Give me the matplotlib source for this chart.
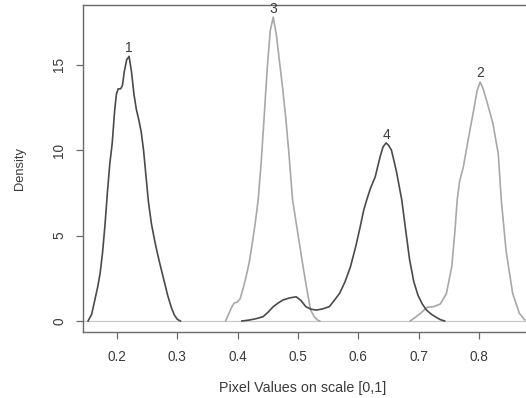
import matplotlib
matplotlib.use("Agg")
import matplotlib.pyplot as plt

plt.rcParams['font.family'] = ['Liberation Sans', 'DejaVu Sans']

# Curve 1 (dark)
x1 = [0.152, 0.158, 0.163, 0.168, 0.172, 0.176, 0.180, 0.184, 0.188, 0.192, 0.196, 0.199,
      0.202, 0.206, 0.209, 0.212, 0.216, 0.220, 0.224, 0.228, 0.232, 0.236, 0.240, 0.244,
      0.248, 0.252, 0.257, 0.263, 0.270, 0.277, 0.284, 0.290, 0.295, 0.300, 0.305]
y1 = [0.0, 0.4, 1.2, 2.0, 2.8, 4.0, 5.6, 7.5, 9.2, 10.4, 12.3, 13.3,
      13.6, 13.6, 13.8, 14.6, 15.3, 15.5, 14.6, 13.3, 12.4, 11.8, 11.1, 10.0,
      8.5, 7.0, 5.7, 4.6, 3.5, 2.5, 1.5, 0.8, 0.35, 0.1, 0.0]

# Curve 3 (light)
x3 = [0.380, 0.385, 0.390, 0.394, 0.399, 0.404, 0.409, 0.414, 0.419, 0.424, 0.429, 0.434,
      0.439, 0.444, 0.449, 0.454, 0.459, 0.464, 0.469, 0.475, 0.480, 0.485, 0.491, 0.499,
      0.507, 0.514, 0.521, 0.527, 0.532, 0.536]
y3 = [0.0, 0.4, 0.8, 1.05, 1.1, 1.3, 1.9, 2.6, 3.4, 4.5, 5.7, 7.1,
      9.3, 12.0, 14.8, 17.0, 17.8, 16.8, 15.3, 13.5, 11.8, 9.8, 7.1, 5.3,
      3.5, 2.0, 0.64, 0.25, 0.07, 0.0]

# Curve 4 (dark)
x4 = [0.407, 0.420, 0.432, 0.442, 0.450, 0.459, 0.467, 0.475, 0.486, 0.497, 0.505, 0.513,
      0.521, 0.530, 0.540, 0.552, 0.560, 0.569, 0.578, 0.587, 0.596, 0.603, 0.609, 0.614,
      0.620, 0.628, 0.636, 0.641, 0.646, 0.650, 0.655, 0.663, 0.672, 0.679, 0.685, 0.692,
      0.699, 0.706, 0.713, 0.721, 0.729, 0.736, 0.743]
y4 = [0.0, 0.06, 0.15, 0.25, 0.5, 0.84, 1.05, 1.23, 1.35, 1.42, 1.2, 0.84,
      0.7, 0.64, 0.7, 0.84, 1.2, 1.62, 2.3, 3.18, 4.4, 5.5, 6.5, 7.1,
      7.76, 8.44, 9.6, 10.2, 10.43, 10.3, 10.0, 8.8, 7.1, 5.2, 3.6, 2.3,
      1.5, 1.0, 0.64, 0.4, 0.22, 0.08, 0.0]

# Curve 2 (light)
x2 = [0.686, 0.694, 0.703, 0.714, 0.725, 0.736, 0.746, 0.755, 0.760, 0.764, 0.768, 0.774,
      0.782, 0.791, 0.797, 0.802, 0.807, 0.812, 0.823, 0.832, 0.837, 0.845, 0.856, 0.867, 0.876]
y2 = [0.0, 0.2, 0.45, 0.8, 0.84, 1.0, 1.6, 3.2, 5.2, 7.1, 8.2, 9.0,
      10.6, 12.3, 13.5, 14.0, 13.6, 13.0, 11.6, 9.8, 7.1, 4.1, 1.6, 0.45, 0.06]

labels = ['1', '2', '3', '4']
label_x = [0.220, 0.802, 0.459, 0.646]
label_y = [16.0, 14.5, 18.3, 10.9]

xticks = [0.2, 0.3, 0.4, 0.5, 0.6, 0.7, 0.8]
yticks = [0, 5, 10, 15]

dark = '#4a4a4a'
light = '#a8a8a8'
frame = '#6a6a6a'
txt = '#3a3a3a'

fig = plt.figure(figsize=(5.26, 3.98), dpi=100)
W, H = 526, 398
ax = fig.add_axes([83 / W, (H - 332) / H, (W - 83) / W, (332 - 5) / H])
ax.set_xlim(0.1436, 0.878)
ax.set_ylim(-0.644, 18.51)

ax.axhline(0, color='#c8c8c8', lw=0.9, zorder=1)
ax.plot(x1, y1, color=dark, lw=1.2, zorder=3, solid_joinstyle='round')
ax.plot(x3, y3, color=light, lw=1.2, zorder=2, solid_joinstyle='round')
ax.plot(x4, y4, color=dark, lw=1.2, zorder=3, solid_joinstyle='round')
ax.plot(x2, y2, color=light, lw=1.2, zorder=2, solid_joinstyle='round')

for t, lx, ly in zip(labels, label_x, label_y):
    ax.text(lx, ly, t, ha='center', va='center', fontsize=10, color=txt)

ax.spines['right'].set_visible(False)
for s in ['left', 'top', 'bottom']:
    ax.spines[s].set_color(frame)
    ax.spines[s].set_linewidth(1.0)

ax.set_xticks(xticks)
ax.set_xticklabels([f'{v:.1f}' for v in xticks])
ax.set_yticks(yticks)
ax.set_yticklabels([str(v) for v in yticks], rotation=90, va='center')
ax.tick_params(axis='both', direction='out', length=5, width=0.9, color=frame,
               labelsize=9.8, labelcolor=txt)
ax.tick_params(axis='x', pad=8)
ax.tick_params(axis='y', pad=7)

fig.text(20 / W, 1 - 168 / H, 'Density', rotation=90, ha='center', va='center',
         fontsize=9.3, color=txt)
fig.text(303 / W, 1 - 388 / H, 'Pixel Values on scale [0,1]',
         ha='center', va='center', fontsize=10.3, color=txt)

fig.savefig('out.png', dpi=100)
